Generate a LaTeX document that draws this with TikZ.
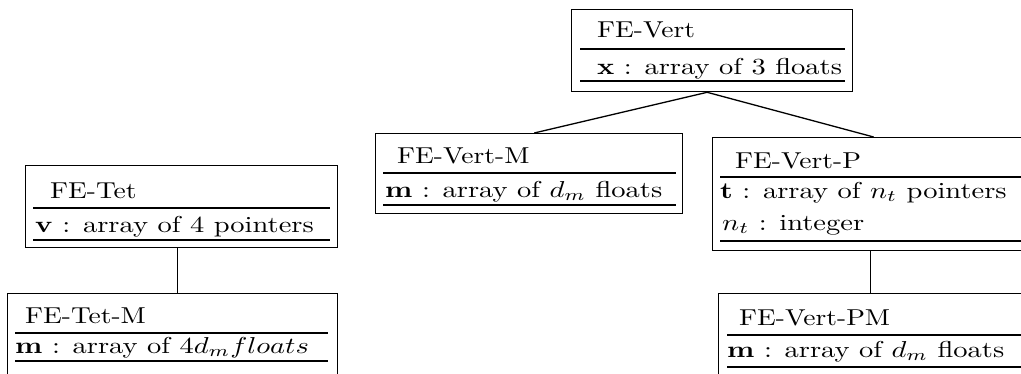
\documentclass[tikz,border=0pt]{standalone}
\usepackage{graphicx}
\newcommand{\ttl}[1]{\scalebox{2.75}[2.3]{#1}}
\newcommand{\bdy}[1]{\scalebox{2.85}[2.3]{#1}}
\begin{document}
\begin{tikzpicture}[x=1pt,y=1pt,
  box/.style={draw, line width=1.3pt, rectangle, inner sep=0pt, anchor=north west},
  lbl/.style={anchor=base west, inner sep=0pt},
  rule/.style={line width=1.8pt},
  conn/.style={line width=1.3pt}]
\useasboundingbox (0,0) rectangle (1021,-373);
\clip (0,0) rectangle (1021,-373);
% FE-Vert
\node[box, minimum width=281pt, minimum height=82pt] (vert) at (571,-9) {};
\node[lbl] (vertT) at (597,-37) {\ttl{FE-Vert}};
\draw[rule] (580,-49) -- (845,-49);
\node[lbl] (vertA) at (597,-74) {\bdy{$\mathbf{x}$ : array of 3 floats}};
\draw[rule] (580,-81) -- (845,-81);
% FE-Vert-M
\node[box, minimum width=307pt, minimum height=80pt] (vertm) at (375,-133) {};
\node[lbl] (vertmT) at (397,-163) {\ttl{FE-Vert-M}};
\draw[rule] (383,-173) -- (676,-173);
\node[lbl] (vertmA) at (385,-197) {\bdy{$\mathbf{m}$ : array of $d_m$ floats}};
\draw[rule] (383,-205) -- (676,-205);
% FE-Vert-P
\node[box, minimum width=322pt, minimum height=113pt] (vertp) at (712,-137) {};
\node[lbl] (vertpT) at (735,-168) {\ttl{FE-Vert-P}};
\draw[rule] (720,-177) -- (1030,-177);
\node[lbl] (vertpA) at (720,-198) {\bdy{$\mathbf{t}$ : array of $n_t$ pointers}};
\node[lbl] (vertpB) at (722,-230) {\bdy{$n_t$ : integer}};
\draw[rule] (720,-241) -- (1030,-241);
% FE-Vert-PM
\node[box, minimum width=304pt, minimum height=88pt] (vertpm) at (718,-293) {};
\node[lbl] (vertpmT) at (739,-325) {\ttl{FE-Vert-PM}};
\draw[rule] (727,-335) -- (1030,-335);
\node[lbl] (vertpmA) at (727,-357) {\bdy{$\mathbf{m}$ : array of $d_m$ floats}};
\draw[rule] (727,-367) -- (1030,-367);
% FE-Tet
\node[box, minimum width=312pt, minimum height=82pt] (tet) at (25,-165) {};
\node[lbl] (tetT) at (50,-198) {\ttl{FE-Tet}};
\draw[rule] (33,-208) -- (330,-208);
\node[lbl] (tetA) at (35,-232) {\bdy{$\mathbf{v}$ : array of 4 pointers}};
\draw[rule] (33,-240) -- (330,-240);
% FE-Tet-M
\node[box, minimum width=330pt, minimum height=88pt] (tetm) at (7,-293) {};
\node[lbl] (tetmT) at (25,-323) {\ttl{FE-Tet-M}};
\draw[rule] (15,-333) -- (328,-333);
\node[lbl] (tetmA) at (15,-353) {\bdy{$\mathbf{m}$ : array of $4d_mfloats$}};
\draw[rule] (15,-361) -- (328,-361);
% connectors
\coordinate (vb) at ([xshift=-5pt]vert.south);
\draw[conn] (vb) -- ([xshift=5pt]vertm.north);
\draw[conn] (vb) -- ([xshift=0pt]vertp.north);
\draw[conn] ([xshift=-4pt]tet.south) -- ([xshift=-4pt]tet.south |- tetm.north);
\draw[conn] ([xshift=-3pt]vertp.south) -- ([xshift=-3pt]vertp.south |- vertpm.north);
\end{tikzpicture}
\end{document}
